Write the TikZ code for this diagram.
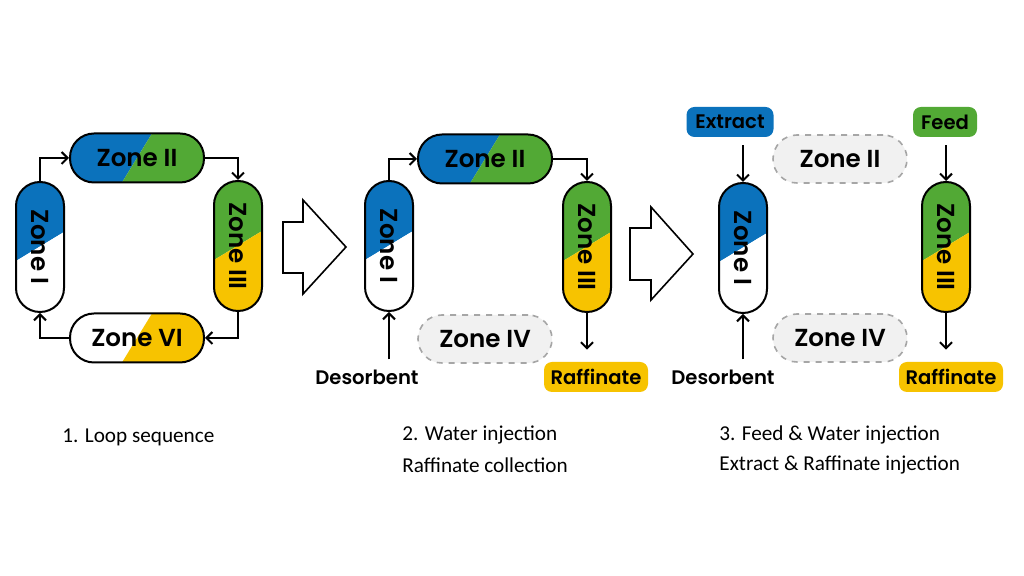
\documentclass[tikz,border=0pt]{standalone}
\usepackage{fontspec}
\setmainfont{Carlito}
\newfontfamily\zonefont{Poppins}[BoldFont = {Poppins SemiBold}]
\usetikzlibrary{arrows.meta}
\definecolor{zblue}{HTML}{0B72BC}
\definecolor{zgreen}{HTML}{52A935}
\definecolor{zyellow}{HTML}{F7C300}
\definecolor{zgray}{HTML}{F1F1F1}
\tikzset{
  zone/.style = {draw, line width = 1pt, rounded corners = 12pt, fill = white, inner sep = 0pt,
    font = \zonefont\bfseries\fontsize{12.3}{14}\selectfont},
  hzone/.style = {zone, minimum width = 67pt, minimum height = 24.5pt},
  vzone/.style = {zone, minimum width = 24pt, minimum height = 65pt},
  vsplit/.style 2 args = {path picture = {
    \fill[#1, sharp corners] (path picture bounding box.north west) -- (path picture bounding box.north east)
      -- ([yshift = 7.5pt]path picture bounding box.east) -- ([yshift = -7pt]path picture bounding box.west) -- cycle;
    \fill[#2, sharp corners] ([yshift = -7pt]path picture bounding box.west) -- ([yshift = 7.5pt]path picture bounding box.east)
      -- (path picture bounding box.south east) -- (path picture bounding box.south west) -- cycle;}},
  hsplit/.style 2 args = {path picture = {
    \fill[#1, sharp corners] (path picture bounding box.north west) -- ([xshift = 7.5pt]path picture bounding box.north)
      -- ([xshift = -7.5pt]path picture bounding box.south) -- (path picture bounding box.south west) -- cycle;
    \fill[#2, sharp corners] ([xshift = 7.5pt]path picture bounding box.north) -- (path picture bounding box.north east)
      -- (path picture bounding box.south east) -- ([xshift = -7.5pt]path picture bounding box.south) -- cycle;}},
  idle/.style = {hzone, draw = gray!70, dashed, fill = zgray, line width = 0.8pt, minimum height = 24pt},
  tag/.style = {rounded corners = 4pt, minimum height = 15pt, inner xsep = 3pt, inner ysep = 0pt,
    font = \zonefont\bfseries\fontsize{9.8}{12}\selectfont},
  label/.style = {inner sep = 1pt, font = \zonefont\bfseries\fontsize{9.8}{12}\selectfont},
  flow/.style = {-{Straight Barb[length = 3pt, width = 6pt]}, line width = 1pt},
  bigarrow/.style = {draw, line width = 0.8pt, line join = miter},
  caption/.style = {anchor = west, inner sep = 0pt, font = \fontsize{10.6}{12}\selectfont}
}
\begin{document}
\begin{tikzpicture}[x = 0.5pt, y = -0.5pt]
    \useasboundingbox[fill = white] (0, 0) rectangle (1024, 576);
    \node[vzone, vsplit = {zblue}{white}] (Loop I) at (40, 247) {\rotatebox{-90}{Zone I}};
    \node[hzone, hsplit = {zblue}{zgreen}] (Loop II) at (137, 158) {Zone II};
    \node[vzone, vsplit = {zgreen}{zyellow}] (Loop III) at (238, 246) {\rotatebox{-90}{Zone III}};
    \node[hzone, hsplit = {white}{zyellow}] (Loop VI) at (137, 338) {Zone VI};
    \draw[flow] (Loop I.north) |- (Loop II.west);
    \draw[flow] (Loop II.east) -| (Loop III.north);
    \draw[flow] (Loop III.south) |- (Loop VI.east);
    \draw[flow] (Loop VI.west) -| (Loop I.south);
    \draw[bigarrow] (283, 222) -- (303, 222) -- (303, 200) -- (346, 247) -- (303, 294) -- (303, 273) -- (283, 273) -- cycle;
    \node[vzone, vsplit = {zblue}{white}] (Water I) at (389, 246) {\rotatebox{-90}{Zone I}};
    \node[hzone, hsplit = {zblue}{zgreen}] (Water II) at (485, 159) {Zone II};
    \node[vzone, vsplit = {zgreen}{zyellow}] (Water III) at (587, 247) {\rotatebox{-90}{Zone III}};
    \node[idle] (Water IV) at (485, 339) {Zone IV};
    \node[label] (Water Desorbent) at (367, 377) {Desorbent};
    \node[tag, fill = zyellow, minimum width = 52pt] (Water Raffinate) at (596, 377) {Raffinate};
    \draw[flow] (Water I.north) |- (Water II.west);
    \draw[flow] (Water II.east) -| (Water III.north);
    \draw[flow, shorten <= 4pt] (Water I.south |- Water Desorbent.north) -- (Water I.south);
    \draw[flow, shorten >= 6pt] (Water III.south) -- (Water III.south |- Water Raffinate.north);
    \draw[bigarrow] (630, 228) -- (651, 228) -- (651, 207) -- (693, 254) -- (651, 300) -- (651, 280) -- (630, 280) -- cycle;
    \node[tag, fill = zblue, minimum width = 43.5pt] (Full Extract) at (730, 122) {Extract};
    \node[tag, fill = zgreen, minimum width = 32pt] (Full Feed) at (945, 122) {Feed};
    \node[idle] (Full II) at (840, 159) {Zone II};
    \node[vzone, vsplit = {zblue}{white}] (Full I) at (743, 248) {\rotatebox{-90}{Zone I}};
    \node[vzone, vsplit = {zgreen}{zyellow}] (Full III) at (946, 247) {\rotatebox{-90}{Zone III}};
    \node[idle] (Full IV) at (840, 338) {Zone IV};
    \node[label] (Full Desorbent) at (723, 377) {Desorbent};
    \node[tag, fill = zyellow, minimum width = 52pt] (Full Raffinate) at (951, 377) {Raffinate};
    \draw[flow, shorten <= 4pt] (Full I.north |- Full Extract.south) -- (Full I.north);
    \draw[flow, shorten <= 4pt] (Full III.north |- Full Feed.south) -- (Full III.north);
    \draw[flow, shorten <= 4pt] (Full I.south |- Full Desorbent.north) -- (Full I.south);
    \draw[flow, shorten >= 6pt] (Full III.south) -- (Full III.south |- Full Raffinate.north);
    \node[caption] (Loop Caption) at (62, 437) {1. Loop sequence};
    \node[caption] (Water Caption) at (402, 435) {2. Water injection};
    \node[caption] (Water Caption 2) at (402, 465) {Raffinate collection};
    \node[caption] (Full Caption) at (719, 435) {3. Feed \& Water injection};
    \node[caption] (Full Caption 2) at (719, 465) {Extract \& Raffinate injection};
  \end{tikzpicture}
\end{document}
